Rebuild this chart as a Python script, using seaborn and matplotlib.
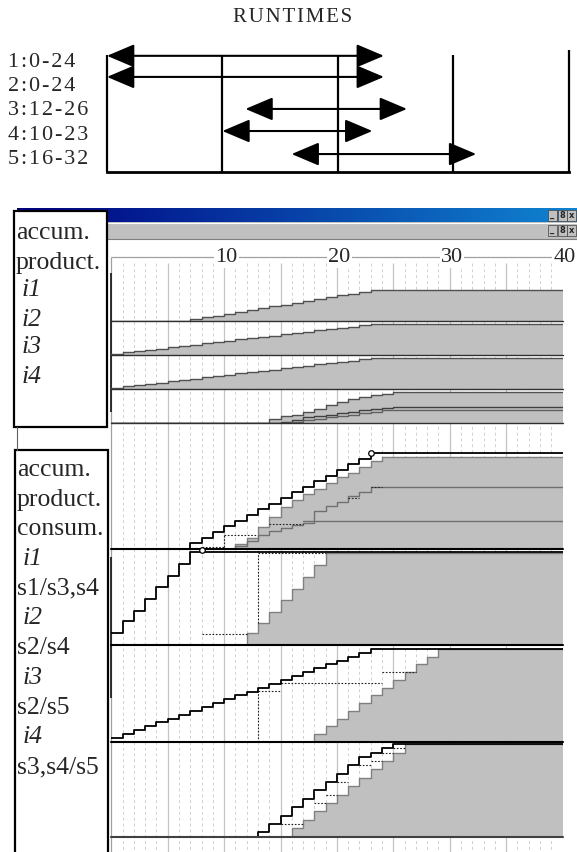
import matplotlib
matplotlib.use("Agg")
import numpy as np
import matplotlib.pyplot as plt
import seaborn as sns
from matplotlib.colors import LinearSegmentedColormap
from matplotlib.patches import Rectangle

sns.set_style("white")
plt.rcParams['font.family'] = ['Liberation Serif', 'DejaVu Serif']

W, H = 577, 852
HAIR = '\u200a'

# ---- runtimes of the five steps ----
run_labels = ["1:0-24", "2:0-24", "3:12-26", "4:10-23", "5:16-32"]
run_start = [0, 0, 12, 10, 16]
run_end = [24, 24, 26, 23, 32]
run_lines = [0, 10, 20, 30, 40]
arrow_pos = [-0.17, 0.70, 2.02, 2.93, 3.88]   # arrows sit a little off their label rows

ruler_ticks = [10, 20, 30, 40]

# ---- panel 1: accumulated production ----
p1_i1_t = list(range(7, 24))
p1_i1_v = list(range(1, 18))
p1_i2_t = list(range(0, 24))
p1_i2_v = list(range(1, 25))
p1_i3_t = list(range(0, 24))
p1_i3_v = list(range(1, 25))
p1_i4_t = list(range(14, 26))
p1_i4_v = [3, 5, 6, 8, 10, 13, 15, 17, 19, 20, 21, 22]
p1_i4_s3_t = list(range(15, 26))
p1_i4_s3_v = [1, 2, 4, 5, 6, 7, 8, 9, 10, 11, 11.5]
p1_i4_s4_t = list(range(16, 25))
p1_i4_s4_v = [1, 2, 3, 4, 5, 6, 7, 8, 9]
p1_ymax = [18.6, 26.3, 26.3, 24.4]

# ---- panel 2: accumulated production and consumption ----
i1_prod_t = list(range(7, 24))
i1_prod_v = list(range(1, 18))
i1_cons_t = list(range(11, 25))
i1_cons_v = [0.9, 1.9, 3.9, 5.7, 7.5, 8.7, 9.7, 10.7, 11.7, 12.7, 13.5, 14.6, 15.5, 16.2]
i1_s3_t = list(range(11, 19))
i1_s3_v = [0.5, 1.5, 2.5, 3.2, 3.7, 4.2, 4.6, 5.0]
i1_s4_t = list(range(17, 24))
i1_s4_v = [5.0, 6.8, 7.6, 8.4, 9.3, 10.1, 11.0]
i1_dot_t0 = [8, 10, 14, 21, 23]
i1_dot_t1 = [10, 12.9, 17, 22, 24]
i1_dot_v = [0.4, 2.5, 4.5, 9.1, 11.0]
i1_vdot_t = [10]
i1_vdot_v0 = [0.4]
i1_vdot_v1 = [2.5]
i1_mark = (23, 17)

i2_prod_t = list(range(0, 8))
i2_prod_v = [1, 2, 2.9, 3.9, 4.9, 5.9, 6.9, 7.9]
i2_cons_t = list(range(12, 20))
i2_cons_v = [1, 1.9, 2.8, 3.8, 4.8, 5.8, 6.8, 7.8]
i2_dot_t0 = [8, 13]
i2_dot_t1 = [12, 19]
i2_dot_v = [0.95, 7.86]
i2_vdot_t = [13]
i2_vdot_v0 = [1.85]
i2_vdot_v1 = [7.86]
i2_mark = (8, 8.1)

i3_prod_t = list(range(0, 24))
i3_prod_v = list(range(1, 25))
i3_cons_t = list(range(18, 30))
i3_cons_v = [2, 4, 6, 8, 10, 12, 14, 16, 18, 20, 22, 24]
i3_dot_t0 = [13, 15, 24]
i3_dot_t1 = [15, 24, 27]
i3_dot_v = [13.1, 15.1, 18.1]
i3_vdot_t = [13]
i3_vdot_v0 = [0]
i3_vdot_v1 = [13.1]

i4_prod_t = list(range(13, 26))
i4_prod_v = [1, 3, 5, 7, 9, 11, 13, 15, 17, 19, 20, 21, 22]
i4_cons_t = list(range(16, 27))
i4_cons_v = [2, 4, 6, 8, 10, 12, 14, 16, 18, 20, 22]
i4_dot_t0 = [15, 18, 19, 20, 22, 23, 24, 25]
i4_dot_t1 = [17, 19, 20, 21, 23, 24, 25, 26]
i4_dot_v = [3, 8, 10, 13, 17, 18, 20, 21]

p2_ymax = [22.3, 8.17, 25.05, 22.6]

box1_lines = ["accum.", "product.", " i1", " i2", " i3", " i4"]
box2_lines = ["accum.", "product.", "consum.", " i1", "s1/s3,s4", " i2", "s2/s4",
              " i3", "s2/s5", " i4", "s3,s4/s5"]

GRAY = '#c0c0c0'

fig = plt.figure(figsize=(W / 100, H / 100), dpi=100)


def px_axes(x0, y0, x1, y1, z=1):
    return fig.add_axes([x0 / W, 1 - y1 / H, (x1 - x0) / W, (y1 - y0) / H], zorder=z)


def spaced(s):
    return HAIR.join(s)


def stairs(t, v, from_zero=True, end=40):
    x = list(t) + [end]
    y = list(v) + [v[-1]]
    if from_zero and t[0] > 0:
        x = [0] + x
        y = [0] + y
    return x, y


def draw_stair(ax, t, v, color, lw, fill=None, from_zero=True, ls='-'):
    x, y = stairs(t, v, from_zero)
    if fill is not None:
        ax.fill_between(x, y, step='post', color=fill, lw=0)
    sns.lineplot(x=x, y=y, ax=ax, drawstyle='steps-post', color=color, lw=lw,
                 estimator=None, legend=False, linestyle=ls)


def row_axes(top, bottom, ymax):
    ax = px_axes(111.3, top, 562.5, bottom, z=2)
    ax.set_xlim(0, 40)
    ax.set_ylim(0, ymax)
    ax.axis('off')
    return ax


# ---------------- RUNTIMES ----------------
fig.text(293 / W, 1 - 17 / H, spaced("RUNTIMES"), ha='center', va='center', fontsize=15)
ax_rt = px_axes(107, 50, 568.5, 172)
ax_rt.set_xlim(0, 40)
ax_rt.set_ylim(4.62, -0.41)
for s in ['top', 'left', 'right']:
    ax_rt.spines[s].set_visible(False)
ax_rt.spines['bottom'].set_linewidth(2)
ax_rt.spines['bottom'].set_color('black')
ax_rt.vlines(run_lines[:-1], 4.62, -0.2, color='black', lw=1.6, clip_on=False)
ax_rt.vlines(run_lines[-1:], 4.62, -0.41, color='black', lw=1.6, clip_on=False)
for i in range(len(run_labels)):
    ax_rt.annotate('', xy=(run_end[i], arrow_pos[i]), xytext=(run_start[i], arrow_pos[i]),
                   arrowprops=dict(arrowstyle='<|-|>,head_length=0.85,head_width=0.36',
                                   mutation_scale=20, color='black', lw=1.5,
                                   shrinkA=0, shrinkB=0))
ax_rt.set_xticks([])
ax_rt.set_yticks(range(len(run_labels)))
ax_rt.set_yticklabels([spaced(s) for s in run_labels], ha='left', fontsize=16)
ax_rt.tick_params(axis='y', length=0, pad=71)

# ---------------- window chrome ----------------
ui_back = px_axes(0, 0, W, H, z=0)
ui_back.set_xlim(0, W)
ui_back.set_ylim(H, 0)
ui_back.axis('off')
ui_back.add_patch(Rectangle((17, 222), 560, 17, fc=GRAY, ec='none'))
ui_back.plot([17, 577], [222.5, 222.5], color='white', lw=0.8)
ui_back.plot([17, 577], [239, 239], color='#808080', lw=0.8)

ax_tb = px_axes(17, 208, 577, 222, z=1)
grad = np.linspace(0, 1, 256)[None, :]
ax_tb.imshow(grad, aspect='auto', cmap=LinearSegmentedColormap.from_list('tb', ['#000080', '#1084d0']))
ax_tb.axis('off')

# ---------------- grid / ruler ----------------
ax_bg = px_axes(111.3, 257, 562.5, H, z=1)
ax_bg.set_xlim(0, 40)
ax_bg.set_ylim(H, 257)
ax_bg.axis('off')
minor = [t for t in range(1, 40) if t % 5]
major = [t for t in range(5, 40, 5)]
ax_bg.vlines(minor, 263, H, color='#d0d0d0', lw=0.7, linestyles=(0, (3, 3)))
ax_bg.vlines(major, 263, H, color='#c4c4c4', lw=0.9)
ax_bg.vlines([0], 257, H, color='#a0a0a0', lw=0.9, clip_on=False)
ax_bg.vlines([0, 0], [273, 557], [412, 698], color='#202020', lw=1.3, clip_on=False)
ax_bg.hlines([257], 0, 40, color='#a0a0a0', lw=0.9, clip_on=False)
for t in ruler_ticks:
    ax_bg.text(t + 0.2, 257, str(t), ha='center', va='center', fontsize=16, clip_on=False,
               bbox=dict(fc='white', ec='none', pad=1))

# ---------------- panel 1 ----------------
p1_rows = [(287, 321), (321, 355), (355, 389), (389, 423)]
p1_data = [(p1_i1_t, p1_i1_v), (p1_i2_t, p1_i2_v), (p1_i3_t, p1_i3_v), (p1_i4_t, p1_i4_v)]
for k, ((top, bot), (t, v)) in enumerate(zip(p1_rows, p1_data)):
    ax = row_axes(top, bot, p1_ymax[k])
    draw_stair(ax, t, v, '#505050', 1.0, fill=GRAY)
    if k == 3:
        draw_stair(ax, p1_i4_s3_t, p1_i4_s3_v, '#404040', 1.0)
        draw_stair(ax, p1_i4_s4_t, p1_i4_s4_v, '#606060', 1.0)
    ax.axhline(0, color='#303030', lw=1.0, clip_on=False)

# ---------------- panel 2 ----------------
p2_rows = [(423, 549), (549, 645), (645, 741.7), (741.7, 836.7)]
p2_prod = [(i1_prod_t, i1_prod_v), (i2_prod_t, i2_prod_v), (i3_prod_t, i3_prod_v), (i4_prod_t, i4_prod_v)]
p2_cons = [(i1_cons_t, i1_cons_v), (i2_cons_t, i2_cons_v), (i3_cons_t, i3_cons_v), (i4_cons_t, i4_cons_v)]
p2_dots = [(i1_dot_t0, i1_dot_t1, i1_dot_v), (i2_dot_t0, i2_dot_t1, i2_dot_v),
           (i3_dot_t0, i3_dot_t1, i3_dot_v), (i4_dot_t0, i4_dot_t1, i4_dot_v)]
p2_vdots = [(i1_vdot_t, i1_vdot_v0, i1_vdot_v1), (i2_vdot_t, i2_vdot_v0, i2_vdot_v1),
            (i3_vdot_t, i3_vdot_v0, i3_vdot_v1), None]
p2_marks = [i1_mark, i2_mark, None, None]
base_col = ['black', 'black', 'black', '#404040']
for k, (top, bot) in enumerate(p2_rows):
    ax = row_axes(top, bot, p2_ymax[k])
    ct, cv = p2_cons[k]
    draw_stair(ax, ct, cv, '#808080', 1.0, fill=GRAY)
    if k == 0:
        draw_stair(ax, i1_s3_t, i1_s3_v, '#707070', 1.0)
        draw_stair(ax, i1_s4_t, i1_s4_v, '#707070', 1.0, from_zero=False)
    t0, t1, dv = p2_dots[k]
    ax.hlines(dv, t0, t1, color='#202020', lw=0.8, linestyles=(0, (1.5, 1.5)))
    if p2_vdots[k] is not None:
        vt, v0, v1 = p2_vdots[k]
        ax.vlines(vt, v0, v1, color='#202020', lw=0.8, linestyles=(0, (1.5, 1.5)))
    pt, pv = p2_prod[k]
    draw_stair(ax, pt, pv, 'black', 1.3)
    if p2_marks[k] is not None:
        ax.plot([p2_marks[k][0]], [p2_marks[k][1]], marker='o', ms=4, mfc='white',
                mec='black', mew=0.9, clip_on=False)
    ax.axhline(0, color=base_col[k], lw=1.5, clip_on=False)

# ---------------- label boxes and buttons ----------------
ui = px_axes(0, 0, W, H, z=5)
ui.set_xlim(0, W)
ui.set_ylim(H, 0)
ui.axis('off')
ui.add_patch(Rectangle((14, 211), 93, 216, fc='white', ec='black', lw=1.6))
ui.add_patch(Rectangle((15, 450), 93, 420, fc='white', ec='black', lw=1.6))
ui.plot([17, 17], [427, 450], color='#606060', lw=0.8)
box1_y = [233, 263, 290, 320, 347, 377]
for y, s in zip(box1_y, box1_lines):
    it = s.startswith(' i')
    ui.text(22 if it else 16, y, s.strip(), fontsize=18.5, va='center', ha='left',
            style='italic' if it else 'normal')
for j, s in enumerate(box2_lines):
    it = s.startswith(' i')
    ui.text(23 if it else 17, 470 + 29.7 * j, s.strip(), fontsize=18.5, va='center', ha='left',
            style='italic' if it else 'normal')
for by in [210, 225]:
    for bx, sym in zip([548, 557.5, 567], ['_', '8', 'x']):
        ui.add_patch(Rectangle((bx, by), 9, 11, fc=GRAY, ec='#404040', lw=0.5))
        ui.text(bx + 4.5, by + 5.5, sym, fontsize=6, ha='center', va='center',
                family='DejaVu Sans', weight='bold')

fig.savefig('out.png', dpi=100)
